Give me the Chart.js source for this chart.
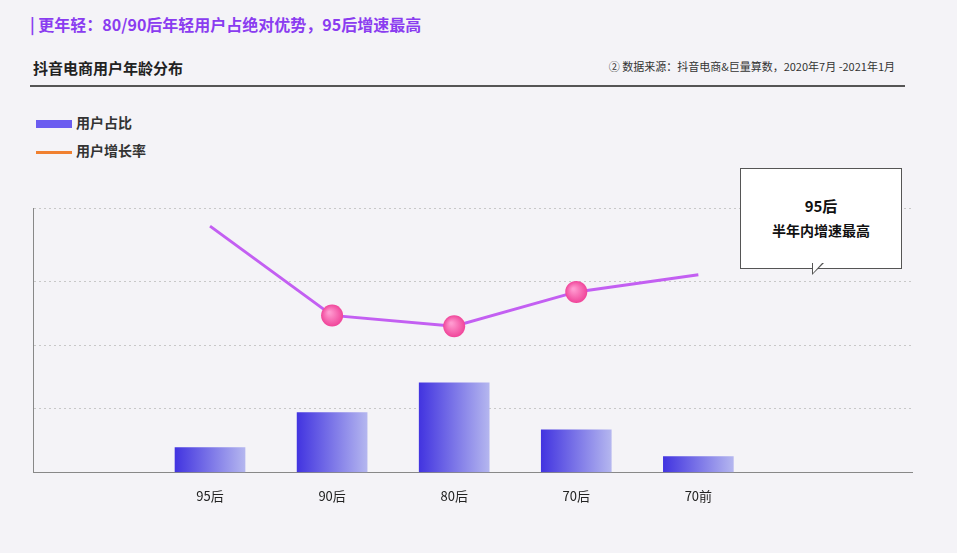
<!DOCTYPE html>
<html><head><meta charset="utf-8">
<script src="https://cdn.jsdelivr.net/npm/chart.js@4"></script>
<style>
body{margin:0;width:957px;height:553px;background:#f4f3f7;font-family:"Noto Sans CJK SC",sans-serif;position:relative;overflow:hidden}
.t{position:absolute;left:30px;top:12px;font-size:16px;font-weight:bold;color:#8a3cf0}
.s{position:absolute;left:33px;top:57px;font-size:15px;font-weight:bold;color:#222}
.src{position:absolute;right:62px;top:58px;font-size:11px;color:#333}
.hr{position:absolute;left:30px;top:85px;width:875px;height:2px;background:#555}
.lg{position:absolute;left:36px;font-size:14px;font-weight:bold;color:#333}
.lg i{display:inline-block;width:36px;vertical-align:middle;margin-right:4px}
.box{position:absolute;left:740px;top:168px;width:162px;height:101px;background:#fff;border:1px solid #555;box-sizing:border-box;text-align:center;font-weight:bold;color:#111;z-index:2}
.tail{position:absolute;left:812px;top:263px;width:0;height:0;border-left:0 solid transparent;border-right:12px solid transparent;border-top:12px solid #555;z-index:3}
.tail2{position:absolute;left:813px;top:262px;width:0;height:0;border-right:10px solid transparent;border-top:11px solid #fff;z-index:4}
#wrap{position:absolute;left:0;top:190px;width:957px;height:330px}
</style></head><body>
<div class="t">| 更年轻：80/90后年轻用户占绝对优势，95后增速最高</div>
<div class="s">抖音电商用户年龄分布</div>
<div class="src">② 数据来源：抖音电商&amp;巨量算数，2020年7月 -2021年1月</div>
<div class="hr"></div>
<div class="lg" style="top:112px"><i style="height:8px;background:#6b5cf0"></i>用户占比</div>
<div class="lg" style="top:140px"><i style="height:3px;background:#f08030"></i>用户增长率</div>
<div id="wrap"><canvas id="c"></canvas></div>
<div class="box"><div style="margin-top:26px;font-size:15px">95后</div><div style="margin-top:4px;font-size:14px">半年内增速最高</div></div>
<div class="tail"></div><div class="tail2"></div>
<script>
const categories = ["95后", "90后", "80后", "70后", "70前"];
const userShare = [0.39, 0.94, 1.41, 0.67, 0.25];
const growthRate = [3.875, 2.47, 2.3, 2.84, 3.11];

const pos = categories.map((c, i) => i + 1);

new Chart(document.getElementById("c"), {
    data: {
        datasets: [
            {
                type: "line",
                data: pos.map((x, i) => ({ x: x, y: growthRate[i] })),
                borderColor: "#c35ff2",
                borderWidth: 3,
                pointRadius: [0, 11, 11, 11, 0],
                pointBorderWidth: 0,
                pointBackgroundColor: ctx => {
                    const s = ctx.chart.scales;
                    if (!s.x || !ctx.raw) return "#f060a0";
                    const px = s.x.getPixelForValue(ctx.raw.x), py = s.y.getPixelForValue(ctx.raw.y);
                    if (!isFinite(px) || !isFinite(py)) return "#f060a0";
                    const g = ctx.chart.ctx.createRadialGradient(px - 3, py - 3, 1, px, py, 11);
                    g.addColorStop(0, "#ff9ad0");
                    g.addColorStop(1, "#f0459a");
                    return g;
                },
                order: 0
            },
            {
                type: "bar",
                data: pos.map((x, i) => ({ x: x, y: userShare[i] })),
                barThickness: 70,
                backgroundColor: ctx => {
                    const s = ctx.chart.scales.x;
                    if (!s || !ctx.raw) return "#6b5cf0";
                    const px = s.getPixelForValue(ctx.raw.x);
                    if (!isFinite(px)) return "#6b5cf0";
                    const g = ctx.chart.ctx.createLinearGradient(px - 35, 0, px + 35, 0);
                    g.addColorStop(0, "#4234e0");
                    g.addColorStop(1, "#b4b6ef");
                    return g;
                },
                order: 1
            }
        ]
    },
    options: {
        responsive: true,
        maintainAspectRatio: false,
        animation: false,
        layout: { padding: { left: 33, right: 45, top: 18, bottom: 8 } },
        plugins: { legend: { display: false }, tooltip: { enabled: false } },
        scales: {
            x: {
                type: "linear",
                min: 0,
                max: 6.3,
                grid: { display: false },
                border: { color: "#888", width: 1 },
                ticks: {
                    stepSize: 1,
                    padding: 8,
                    color: "#222",
                    font: { family: "Noto Sans CJK SC", size: 13 },
                    callback: v => categories[v - 1] || ""
                }
            },
            y: {
                min: 0,
                max: 4.16,
                ticks: { display: false, stepSize: 1 },
                grid: { color: "#c8c8c8", drawTicks: false },
                border: { color: "#888", dash: [2, 3], display: true }
            }
        }
    }
});
</script>
</body></html>
